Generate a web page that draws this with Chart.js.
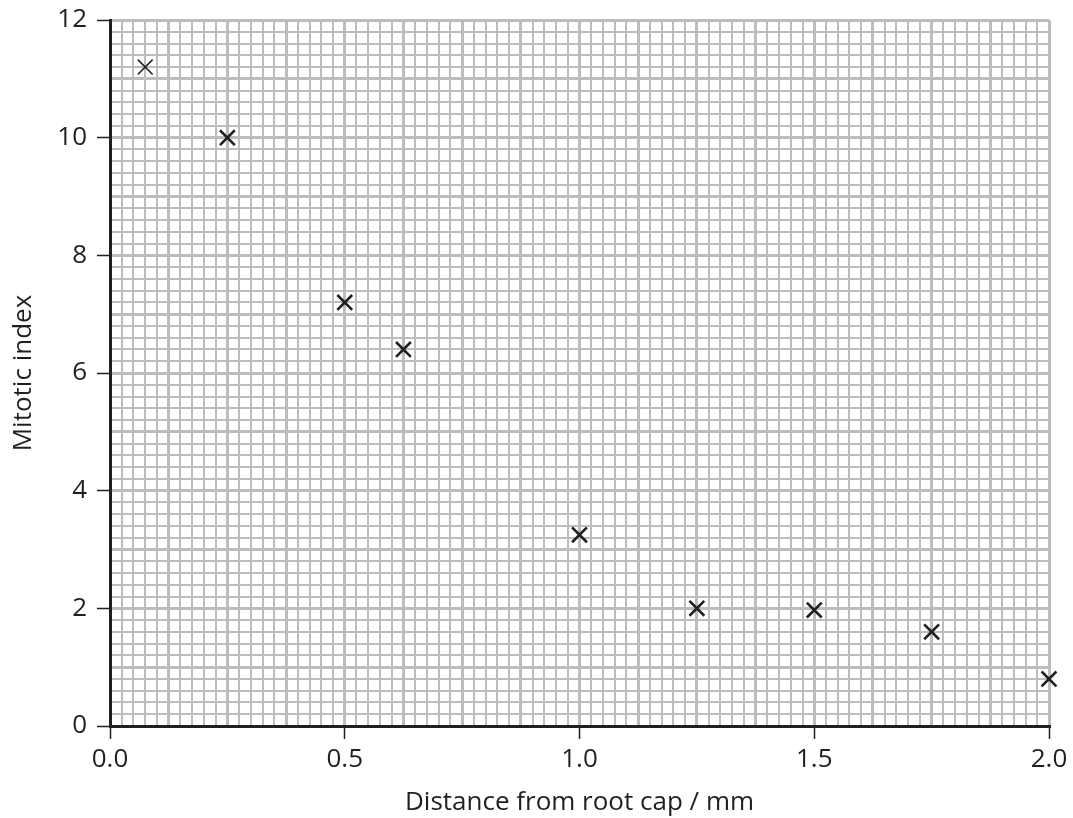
<!DOCTYPE html>
<html>
<head>
<meta charset="utf-8">
<script src="https://cdn.jsdelivr.net/npm/chart.js@4/dist/chart.umd.min.js"></script>
<style>
  html, body { margin: 0; padding: 0; background: #ffffff; }
  #chart { display: block; }
</style>
</head>
<body>
<canvas id="chart" width="1073" height="818"></canvas>
<script>
// Mitotic index against distance from the root cap, drawn on graph paper.
const distance = [0.075, 0.25, 0.5, 0.625, 1.0, 1.25, 1.5, 1.75, 2.0];
const mitoticIndex = [11.2, 10.0, 7.2, 6.4, 3.25, 2.0, 1.97, 1.6, 0.8];
const xTickLabels = [0.0, 0.5, 1.0, 1.5, 2.0];
const yTickLabels = [0, 2, 4, 6, 8, 10, 12];

const INK = "#231f20";
const PAPER = "#bcbdc0";
const FONT = "'Open Sans', 'DejaVu Sans', sans-serif";

const near = (v, list) => list.some((t) => Math.abs(v - t) < 1e-6);
const onStep = (v, step) => Math.abs(v / step - Math.round(v / step)) < 1e-6;

function paperAxis(min, max, minor, major, labels, fmt) {
  return {
    type: "linear",
    min, max,
    grid: {
      color: PAPER,
      lineWidth: (ctx) => (onStep(ctx.tick.value, major) ? 3 : 2),
      tickLength: 13,
      tickWidth: 1.5,
      tickColor: (ctx) => (near(ctx.tick.value, labels) ? INK : "rgba(0,0,0,0)"),
    },
    border: { display: true, color: INK, width: 3 },
    ticks: {
      stepSize: minor,
      autoSkip: false,
      maxRotation: 0,
      color: INK,
      font: { family: FONT, size: 26 },
      callback: (v) => (near(v, labels) ? fmt(v) : ""),
    },
  };
}

// the plot box is fixed: left 110, right 1049, top 20, bottom 726
const x = paperAxis(0, 2, 0.025, 0.125, xTickLabels, (v) => v.toFixed(1));
x.ticks.padding = 5;
x.title = {
  display: true, text: "Distance from root cap / mm", color: INK,
  font: { family: FONT, size: 26 }, padding: { top: 0, bottom: 0 },
};
x.afterFit = (s) => { s.height = 92; s.paddingLeft = 0; s.paddingRight = 0; };

const y = paperAxis(0, 12, 0.2, 1, yTickLabels, (v) => String(Math.round(v)));
y.ticks.padding = 10;
y.title = {
  display: true, text: "Mitotic index", color: INK,
  font: { family: FONT, size: 26 }, padding: { top: 8, bottom: 0 },
};
y.afterFit = (s) => { s.width = 110; s.paddingTop = 0; s.paddingBottom = 0; };

new Chart(document.getElementById("chart"), {
  type: "scatter",
  data: {
    datasets: [{
      data: distance.map((d, i) => ({ x: d, y: mitoticIndex[i] })),
      pointStyle: "crossRot",
      pointRadius: 10.5,
      pointBorderColor: INK,
      pointBorderWidth: distance.map((_, i) => (i === 0 ? 1.6 : 2.6)),
      clip: false,
    }],
  },
  options: {
    responsive: false,
    animation: false,
    devicePixelRatio: 1,
    layout: { padding: { left: 0, top: 20, right: 24, bottom: 0 } },
    scales: { x, y },
    plugins: { legend: { display: false }, tooltip: { enabled: false } },
  },
});
</script>
</body>
</html>
